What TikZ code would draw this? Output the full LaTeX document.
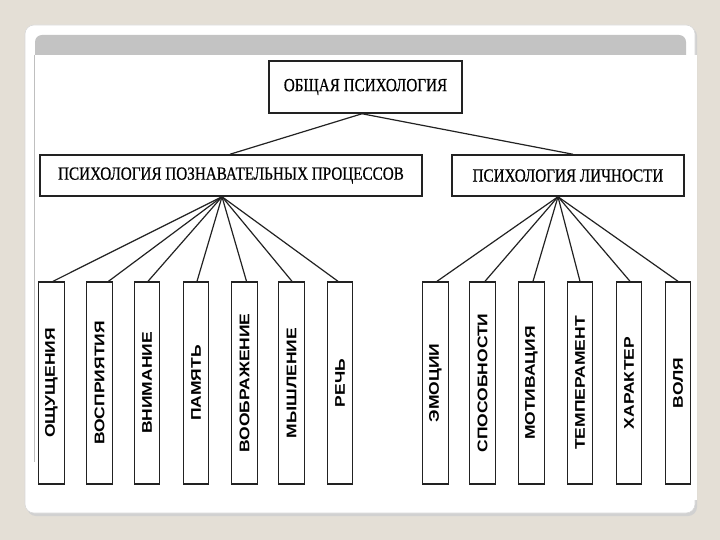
\documentclass[tikz,border=0pt]{standalone}
\usepackage{fontspec}
\setmainfont{Liberation Serif}[FakeBold=0.6]
\newfontfamily\lsans{Liberation Sans}
\usepackage{graphicx}
\definecolor{bgbeige}{HTML}{E4DFD6}
\definecolor{bandgray}{HTML}{C3C3C3}
\definecolor{inkc}{HTML}{222222}
\tikzset{
  topbox/.style={draw=inkc, line width=1.5pt, fill=white, inner sep=0pt, minimum width=193pt, minimum height=52pt},
  midbox/.style={draw=inkc, line width=1.5pt, fill=white, inner sep=0pt, minimum height=41pt},
  cbox/.style={draw=inkc, line width=1.4pt, fill=white, inner sep=0pt, minimum width=25.5pt, minimum height=202pt},
  link/.style={draw=inkc, line width=1.2pt},
}
\newcommand{\serifT}[1]{\scalebox{0.82}[1]{\fontsize{18.5}{18.5}\selectfont #1}}
\newcommand{\vlab}[1]{\rotatebox{90}{\scalebox{1.25}[1]{\lsans\bfseries\fontsize{14}{14}\selectfont #1}}}
\begin{document}
\begin{tikzpicture}[x=1pt,y=-1pt]
\useasboundingbox (0,0) rectangle (720,540);
\fill[bgbeige] (0,0) rectangle (720,540);
% card shadow and card
\fill[black!18, rounded corners=9pt] (27,27) rectangle (697,516);
\fill[white, rounded corners=9pt] (25,25) rectangle (695,513);
\draw[black!15, line width=0.6pt, rounded corners=9pt] (25,25) rectangle (695,513);
% top band
\fill[bandgray, rounded corners=7pt] (35,35) rectangle (686,64);
% picture area
\fill[white] (35,55) rectangle (697,500);
\draw[black!25, line width=0.8pt] (34.5,55) -- (34.5,462);

% nodes
\node[topbox] (top) at (365.5,87) {\serifT{ОБЩАЯ ПСИХОЛОГИЯ}};
\node[midbox, minimum width=382pt] (L) at (231,175.5) {\serifT{ПСИХОЛОГИЯ ПОЗНАВАТЕЛЬНЫХ ПРОЦЕССОВ}};
\node[midbox, minimum width=232pt] (R) at (568,175.5) {\serifT{ПСИХОЛОГИЯ ЛИЧНОСТИ}};

\node[cbox] (l1) at (51.5,383) {\vlab{ОЩУЩЕНИЯ}};
\node[cbox] (l2) at (99.5,383) {\vlab{ВОСПРИЯТИЯ}};
\node[cbox] (l3) at (147,383) {\vlab{ВНИМАНИЕ}};
\node[cbox] (l4) at (196,383) {\vlab{ПАМЯТЬ}};
\node[cbox] (l5) at (244.5,383) {\vlab{ВООБРАЖЕНИЕ}};
\node[cbox] (l6) at (291.5,383) {\vlab{МЫШЛЕНИЕ}};
\node[cbox] (l7) at (340,383) {\vlab{РЕЧЬ}};

\node[cbox] (r1) at (435.5,383) {\vlab{ЭМОЦИИ}};
\node[cbox] (r2) at (482.5,383) {\vlab{СПОСОБНОСТИ}};
\node[cbox] (r3) at (531.5,383) {\vlab{МОТИВАЦИЯ}};
\node[cbox] (r4) at (580,383) {\vlab{ТЕМПЕРАМЕНТ}};
\node[cbox] (r5) at (629,383) {\vlab{ХАРАКТЕР}};
\node[cbox] (r6) at (678,383) {\vlab{ВОЛЯ}};

% connectors
\coordinate (topfoot) at ([xshift=-3.5pt]top.south);
\draw[link] (topfoot) -- ([xshift=-1pt]L.north);
\draw[link] (topfoot) -- ([xshift=5pt]R.north);

\coordinate (La) at ([xshift=-9pt]L.south);
\draw[link] (La) -- ([xshift=1.5pt]l1.north);
\draw[link] (La) -- ([xshift=9pt]l2.north);
\draw[link] (La) -- ([xshift=1pt]l3.north);
\draw[link] (La) -- ([xshift=1pt]l4.north);
\draw[link] (La) -- ([xshift=2pt]l5.north);
\draw[link] (La) -- ([xshift=0.5pt]l6.north);
\draw[link] (La) -- ([xshift=-2pt]l7.north);

\coordinate (Ra) at ([xshift=-10pt]R.south);
\draw[link] (Ra) -- ([xshift=1.5pt]r1.north);
\draw[link] (Ra) -- ([xshift=2.5pt]r2.north);
\draw[link] (Ra) -- ([xshift=1.5pt]r3.north);
\draw[link] (Ra) -- (r4.north);
\draw[link] (Ra) -- ([xshift=1pt]r5.north);
\draw[link] (Ra) -- (r6.north);
\end{tikzpicture}
\end{document}
